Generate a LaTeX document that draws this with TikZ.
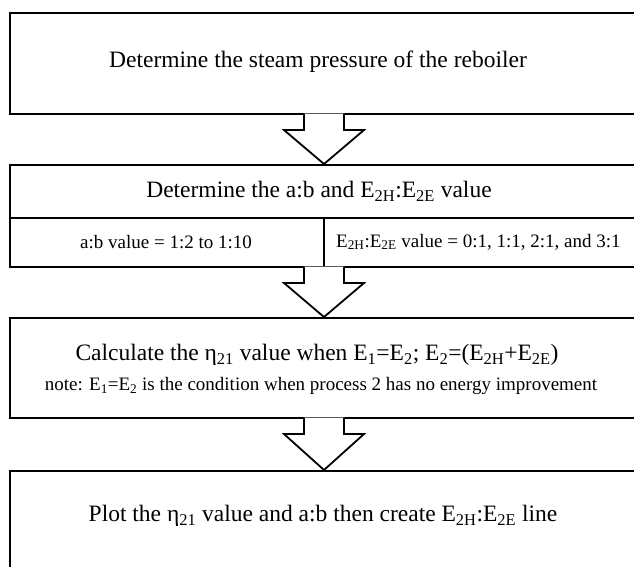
\documentclass[tikz,border=0pt]{standalone}
\usepackage{fontspec}
\setmainfont{Liberation Serif}
\newcommand{\sbs}[1]{\textsubscript{#1}}
\begin{document}
\begin{tikzpicture}[x=1pt,y=-1pt,
  stagebox/.style={draw=black,line width=2pt,rectangle,inner sep=0pt,anchor=north west,minimum width=628pt},
  bigtext/.style={font=\fontsize{23.5}{26}\selectfont,inner sep=0pt},
  smalltext/.style={font=\fontsize{19}{21}\selectfont,inner sep=0pt},
  arrowline/.style={draw=black,line width=1.8pt,line join=miter}
]
\clip (0,0) rectangle (634,566);
% boxes
\node[stagebox,minimum height=101pt] (b1) at (9,12) {};
\node[stagebox,minimum height=102pt] (b2) at (9,164) {};
\node[stagebox,minimum height=100pt] (b3) at (9,317) {};
\node[stagebox,minimum height=130pt] (b4) at (9,470) {};
% box 2 divisions
\coordinate (mL) at (9,218);
\coordinate (mR) at (637,218);
\draw[line width=2pt] (mL) -- (mR);
\coordinate (dv) at (b2.south |- mL);
\draw[line width=2pt] (dv) -- (b2.south);
% texts
\node[bigtext] (t1) at (318,62) {Determine the steam pressure of the reboiler};
\node[bigtext] (t2) at (319,191) {Determine the a:b and E\sbs{2H}:E\sbs{2E} value};
\node[smalltext] (t2a) at (166,242) {a:b value = 1:2 to 1:10};
\node[smalltext,anchor=west] (t2b) at (336,242) {E\sbs{2H}:E\sbs{2E} value = 0:1, 1:1, 2:1, and 3:1};
\node[bigtext] (t3a) at (317,355) {Calculate the η\sbs{21} value when E\sbs{1}=E\sbs{2}; E\sbs{2}=(E\sbs{2H}+E\sbs{2E})};
\node[smalltext] (t3b) at (321,386) {note: E\sbs{1}=E\sbs{2} is the condition when process 2 has no energy improvement};
\node[bigtext] (t4) at (323,516) {Plot the η\sbs{21} value and a:b then create E\sbs{2H}:E\sbs{2E} line};
% block arrows
\foreach \s/\t in {b1/b2,b2/b3,b3/b4}{
  \fill[white] ([xshift=-20pt,yshift=1.5pt]\s.south) -- ([xshift=-20pt,yshift=-15pt]\s.south) -- ([xshift=-40pt,yshift=-15pt]\s.south) -- (\t.north) -- ([xshift=40pt,yshift=-15pt]\s.south) -- ([xshift=20pt,yshift=-15pt]\s.south) -- ([xshift=20pt,yshift=1.5pt]\s.south) -- cycle;
  \draw[arrowline] ([xshift=-20pt,yshift=1pt]\s.south) -- ([xshift=-20pt,yshift=-15pt]\s.south) -- ([xshift=-40pt,yshift=-15pt]\s.south) -- (\t.north) -- ([xshift=40pt,yshift=-15pt]\s.south) -- ([xshift=20pt,yshift=-15pt]\s.south) -- ([xshift=20pt,yshift=1pt]\s.south);
}
\end{tikzpicture}
\end{document}
